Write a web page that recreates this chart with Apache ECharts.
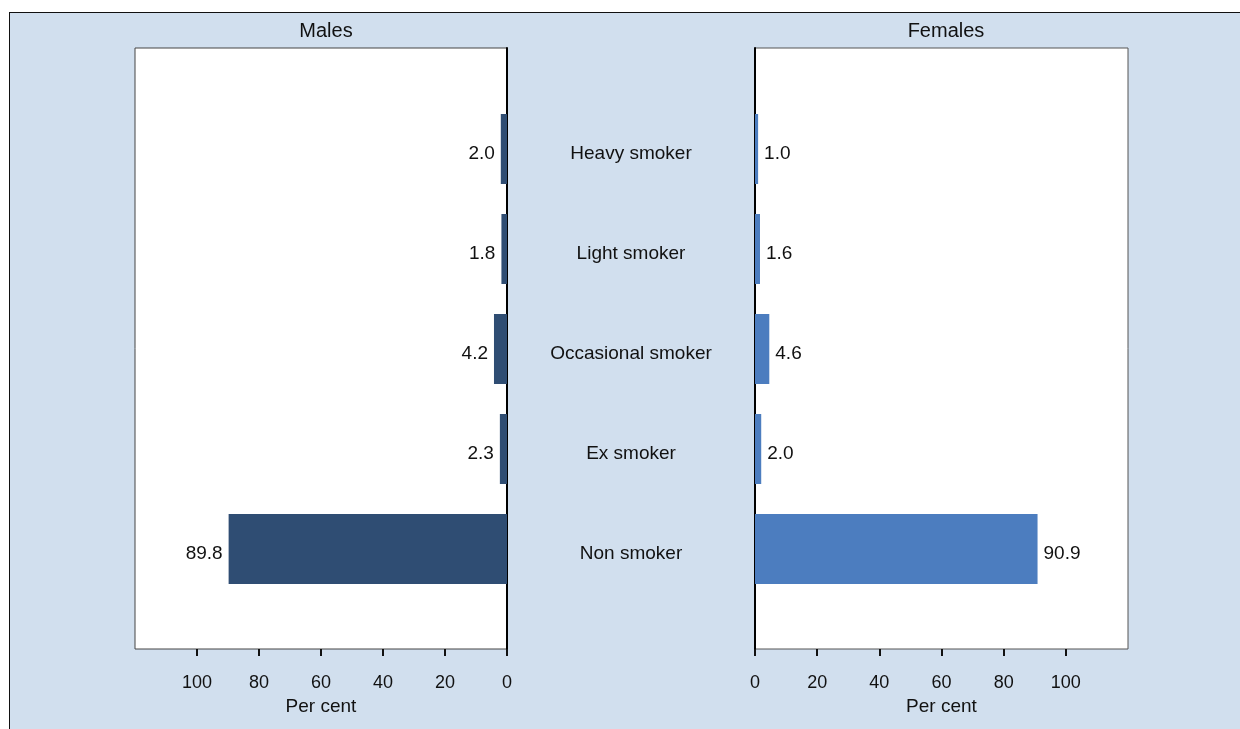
<!DOCTYPE html>
<html>
<head>
<meta charset="utf-8">
<script src="https://cdn.jsdelivr.net/npm/echarts@6/dist/echarts.min.js"></script>
<style>
html,body{margin:0;padding:0;background:#fff;}
#bg{position:absolute;left:9px;top:12px;width:1231px;height:717px;background:#d1dfee;border-top:1px solid #111;border-left:1px solid #111;box-sizing:border-box;}
#chart{position:absolute;left:0;top:0;width:1240px;height:729px;}
</style>
</head>
<body>
<div id="bg"></div>
<div id="chart"></div>
<script>
const categories = ['Heavy smoker', 'Light smoker', 'Occasional smoker', 'Ex smoker', 'Non smoker'];
const males = [2.0, 1.8, 4.2, 2.3, 89.8];
const females = [1.0, 1.6, 4.6, 2.0, 90.9];
const tickValues = [0, 20, 40, 60, 80, 100];
const panelTitles = ['Males', 'Females'];
const axisName = 'Per cent';

const FONT = '"Liberation Sans", Arial, sans-serif';
const txt = { fontFamily: FONT, fontSize: 18, color: '#111' };
const txt19 = { fontFamily: FONT, fontSize: 19, color: '#111' };

const chart = echarts.init(document.getElementById('chart'), null, { renderer: 'canvas' });

const frameX = (inverse) => ({
  type: 'value', min: 0, max: 120, interval: 20, inverse: inverse,
  axisLine: { show: false },
  axisTick: { show: true, length: 7, lineStyle: { color: '#111', width: 2 }, customValues: tickValues },
  axisLabel: Object.assign({ margin: 25, customValues: tickValues }, txt),
  splitLine: { show: false },
  name: axisName, nameLocation: 'middle', nameGap: 44,
  nameTextStyle: txt19
});

const option = {
  animation: false,
  backgroundColor: 'transparent',
  title: [
    { text: panelTitles[0], left: 321, top: 16, textAlign: 'center', textStyle: Object.assign({}, txt, { fontSize: 20, fontWeight: 'normal' }) },
    { text: panelTitles[1], left: 941, top: 16, textAlign: 'center', textStyle: Object.assign({}, txt, { fontSize: 20, fontWeight: 'normal' }) }
  ],
  grid: [
    { left: 135, top: 48, width: 372, height: 601, show: true, backgroundColor: '#fff', borderColor: '#444', borderWidth: 1 },
    { left: 135, top: 99, width: 372, height: 500 },
    { left: 755, top: 48, width: 373, height: 601, show: true, backgroundColor: '#fff', borderColor: '#555', borderWidth: 1 },
    { left: 755, top: 99, width: 373, height: 500 }
  ],
  xAxis: [
    Object.assign({ gridIndex: 0 }, frameX(true)),
    { gridIndex: 1, type: 'value', min: 0, max: 120, inverse: true, show: false },
    Object.assign({ gridIndex: 2 }, frameX(false)),
    { gridIndex: 3, type: 'value', min: 0, max: 120, show: false }
  ],
  yAxis: [
    { gridIndex: 0, type: 'value', min: 0, max: 1, position: 'right',
      axisLine: { show: true, lineStyle: { color: '#000', width: 2 } },
      axisTick: { show: false }, axisLabel: { show: false }, splitLine: { show: false } },
    { gridIndex: 1, type: 'category', data: categories, inverse: true, position: 'right',
      axisLine: { show: false }, axisTick: { show: false }, splitLine: { show: false },
      axisLabel: Object.assign({ margin: 124, align: 'center', formatter: '{a|{value}}',
        rich: { a: { fontFamily: FONT, fontSize: 19, color: '#111', padding: [9, 0, 0, 0] } } }, txt19) },
    { gridIndex: 2, type: 'value', min: 0, max: 1, position: 'left',
      axisLine: { show: true, lineStyle: { color: '#000', width: 2 } },
      axisTick: { show: false }, axisLabel: { show: false }, splitLine: { show: false } },
    { gridIndex: 3, type: 'category', data: categories, inverse: true, position: 'left',
      axisLine: { show: false }, axisTick: { show: false }, splitLine: { show: false },
      axisLabel: { show: false } }
  ],
  series: [
    { type: 'bar', xAxisIndex: 1, yAxisIndex: 1, data: males, barWidth: 70,
      itemStyle: { color: '#2f4d73' },
      label: Object.assign({ show: true, position: 'left', distance: 6, offset: [0, 5], formatter: p => p.value.toFixed(1) }, txt19) },
    { type: 'bar', xAxisIndex: 3, yAxisIndex: 3, data: females, barWidth: 70,
      itemStyle: { color: '#4c7dbf' },
      label: Object.assign({ show: true, position: 'right', distance: 6, offset: [0, 5], formatter: p => p.value.toFixed(1) }, txt19) }
  ]
};
chart.setOption(option);
</script>
</body>
</html>
